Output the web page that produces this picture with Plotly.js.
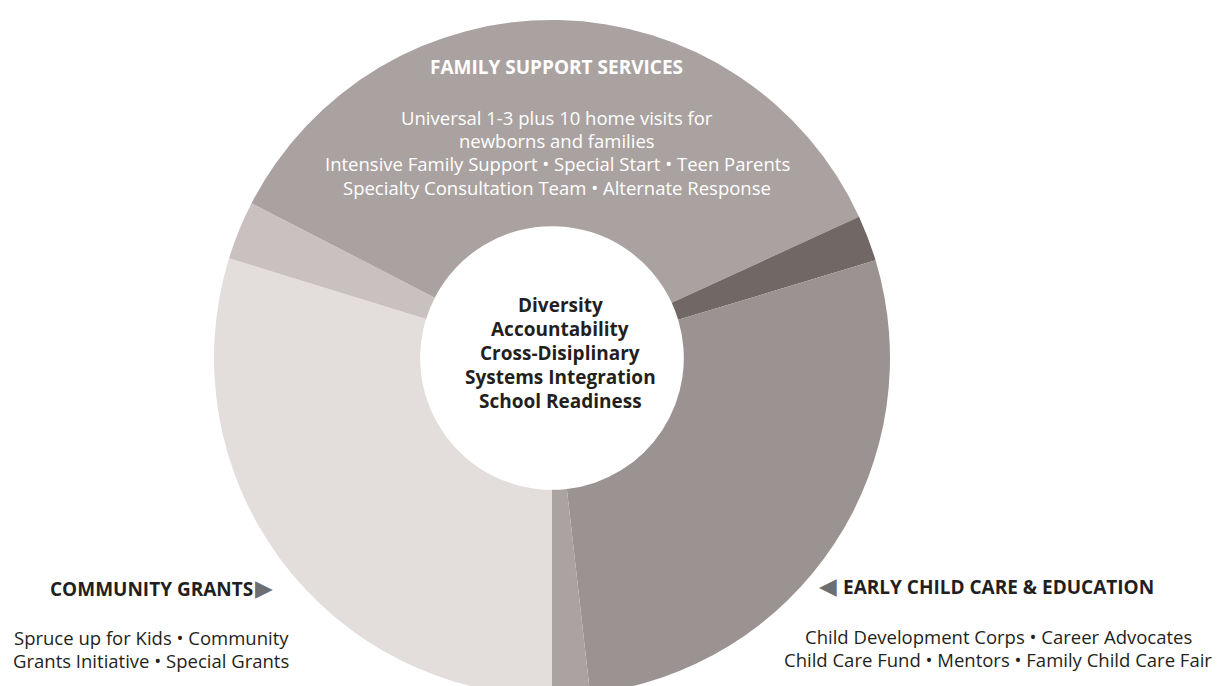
<!DOCTYPE html>
<html>
<head>
<meta charset="utf-8">
<script src="https://cdn.plot.ly/plotly-3.0.1.min.js"></script>
<style>
  html, body { margin: 0; padding: 0; background: #ffffff; overflow: hidden; }
  #chart { width: 1227px; height: 696px; }
</style>
</head>
<body>
<div id="chart"></div>
<script>
// ---- data ----
const sliceLabels = ['Community Grants', 'Community Grants (other)', 'Family Support Services', 'Family Support (other)', 'Early Child Care & Education', 'Early Child Care (other)'];
const sliceValues = [29.8, 2.8, 35.6, 2.2, 27.9, 1.8];
const sliceColors = ['#e3dedc', '#c9c1bf', '#aaa2a0', '#716866', '#9b9391', '#aba3a1'];

const familyTitle = 'FAMILY SUPPORT SERVICES';
const familyLines = ['Universal 1-3 plus 10 home visits for', 'newborns and families', 'Intensive Family Support • Special Start • Teen Parents', 'Specialty Consultation Team • Alternate Response'];
const centerLines = ['Diversity', 'Accountability', 'Cross-Disiplinary', 'Systems Integration', 'School Readiness'];
const communityTitle = 'COMMUNITY GRANTS';
const communityLines = ['Spruce up for Kids • Community', 'Grants Initiative • Special Grants'];
const earlyTitle = 'EARLY CHILD CARE & EDUCATION';
const earlyLines = ['Child Development Corps • Career Advocates', 'Child Care Fund • Mentors • Family Child Care Fair'];

// ---- geometry helpers (page pixels -> paper coords) ----
const W = 1227, H = 696, TOP = 20, PH = H - TOP;
const px = x => x / W;
const py = y => 1 - (y - TOP) / PH;
const cx = 552, R = 338;

const FONT = '"Open Sans", "Noto Sans", sans-serif';
const DARK = '#231f20';
const annotations = [];
function addText(text, x, y, size, color, xanchor, family) {
  annotations.push({
    text: text, x: px(x), y: py(y), xref: 'paper', yref: 'paper',
    xanchor: xanchor || 'center', yanchor: 'middle', showarrow: false,
    font: { family: family || FONT, size: size, color: color }
  });
}

// Family support block (white text on slice)
addText('<b>' + familyTitle + '</b>', 556, 67, 19, '#ffffff');
familyLines.forEach((t, i) => addText(t, 557, 117 + i * 23.5, 18.5, '#ffffff'));

// centre text
centerLines.forEach((t, i) => addText('<b>' + t + '</b>', 560, 305 + i * 24, 19, DARK));

// community grants
addText('<b>' + communityTitle + '</b>', 151, 589, 19, DARK);
addText('▶', 253, 588, 23, '#6d6e71', 'left', 'DejaVu Sans');
communityLines.forEach((t, i) => addText(t, 151, 637 + i * 23, 18.5, DARK));

// early child care
addText('<b>' + earlyTitle + '</b>', 998, 587, 19, DARK);
addText('◀', 839, 586, 23, '#6d6e71', 'right', 'DejaVu Sans');
earlyLines.forEach((t, i) => addText(t, 998, 636 + i * 23, 18.5, DARK));

const trace = {
  type: 'pie',
  labels: sliceLabels,
  values: sliceValues,
  sort: false,
  direction: 'clockwise',
  rotation: 180,
  hole: 0.39,
  textinfo: 'none',
  hoverinfo: 'label+percent',
  marker: { colors: sliceColors, line: { width: 0 } },
  domain: { x: [(cx - R) / W, (cx + R) / W], y: [0, 1] },
  showlegend: false
};

const layout = {
  width: W, height: H,
  margin: { l: 0, r: 0, t: TOP, b: 0, pad: 0 },
  paper_bgcolor: '#ffffff',
  plot_bgcolor: '#ffffff',
  showlegend: false,
  annotations: annotations
};

Plotly.newPlot('chart', [trace], layout, { displayModeBar: false, staticPlot: true });
</script>
</body>
</html>
